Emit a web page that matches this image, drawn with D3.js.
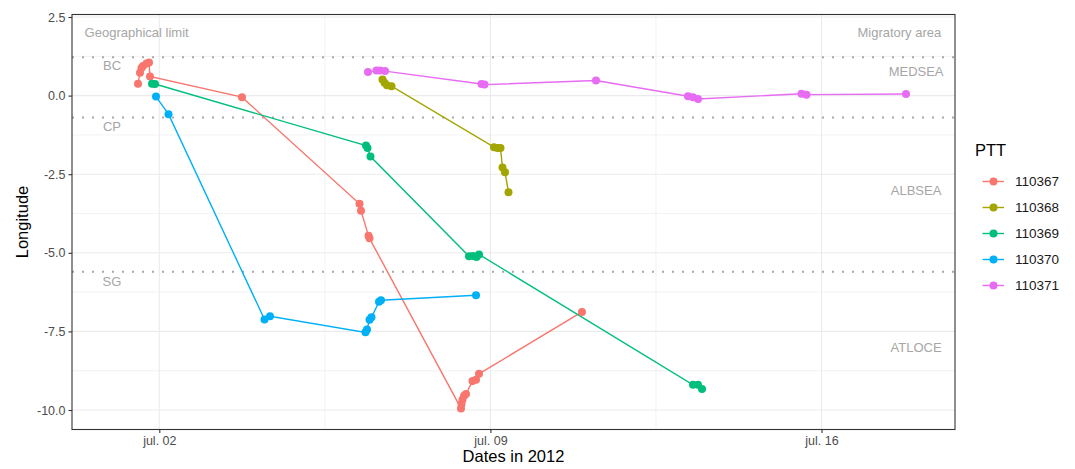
<!DOCTYPE html>
<html>
<head>
<meta charset="utf-8">
<script src="https://cdn.jsdelivr.net/npm/d3@7"></script>
<style>
  body { margin: 0; background: #fff; }
  text { font-family: "Liberation Sans", Arial, sans-serif; }
</style>
</head>
<body>
<div id="plot"></div>
<script>
// Data: [date time (UTC), longitude] for each tag
const ptts = ["110367", "110368", "110369", "110370", "110371"];
const colors = ["#F8766D", "#A3A500", "#00BF7D", "#00B0F6", "#E76BF3"];

const ptt110367 = [
  ["2012-07-01 13:12", 0.38], ["2012-07-01 14:12", 0.73], ["2012-07-01 14:58", 0.88],
  ["2012-07-01 15:43", 0.94], ["2012-07-01 17:30", 1.02], ["2012-07-01 18:46", 1.05],
  ["2012-07-01 19:16", 0.61], ["2012-07-03 17:57", -0.05], ["2012-07-06 05:35", -3.44],
  ["2012-07-06 06:20", -3.66], ["2012-07-06 10:09", -4.46], ["2012-07-06 10:39", -4.54],
  ["2012-07-08 09:04", -9.95], ["2012-07-08 09:20", -9.81], ["2012-07-08 09:50", -9.67],
  ["2012-07-08 10:36", -9.55], ["2012-07-08 11:37", -9.49], ["2012-07-08 14:55", -9.08],
  ["2012-07-08 16:42", -9.04], ["2012-07-08 18:13", -8.85], ["2012-07-10 22:28", -6.88]
];
const ptt110368 = [
  ["2012-07-06 17:15", 0.51], ["2012-07-06 18:16", 0.41], ["2012-07-06 19:32", 0.33],
  ["2012-07-06 21:49", 0.30], ["2012-07-09 01:49", -1.64], ["2012-07-09 03:36", -1.67],
  ["2012-07-09 05:07", -1.67], ["2012-07-09 06:08", -2.29], ["2012-07-09 07:24", -2.44],
  ["2012-07-09 09:11", -3.07]
];
const ptt110369 = [
  ["2012-07-01 20:18", 0.38], ["2012-07-01 21:49", 0.37], ["2012-07-06 08:53", -1.59],
  ["2012-07-06 09:39", -1.67], ["2012-07-06 11:10", -1.94], ["2012-07-08 13:09", -5.11],
  ["2012-07-08 15:10", -5.10], ["2012-07-08 16:57", -5.13], ["2012-07-08 18:13", -5.05],
  ["2012-07-13 06:48", -9.20], ["2012-07-13 09:20", -9.20], ["2012-07-13 11:22", -9.33]
];
const ptt110370 = [
  ["2012-07-01 22:19", -0.03], ["2012-07-02 04:40", -0.59], ["2012-07-04 05:23", -7.12],
  ["2012-07-04 08:10", -7.02], ["2012-07-06 08:37", -7.53], ["2012-07-06 09:23", -7.44],
  ["2012-07-06 10:39", -7.13], ["2012-07-06 11:40", -7.05], ["2012-07-06 15:28", -6.56],
  ["2012-07-06 16:29", -6.51], ["2012-07-08 16:42", -6.35]
];
const ptt110371 = [
  ["2012-07-06 09:53", 0.75], ["2012-07-06 14:12", 0.80], ["2012-07-06 15:59", 0.80],
  ["2012-07-06 18:31", 0.78], ["2012-07-08 19:29", 0.37], ["2012-07-08 21:00", 0.35],
  ["2012-07-11 05:35", 0.48], ["2012-07-13 04:16", -0.02], ["2012-07-13 06:48", -0.05],
  ["2012-07-13 09:20", -0.11], ["2012-07-15 13:51", 0.06], ["2012-07-15 16:23", 0.03],
  ["2012-07-17 18:52", 0.05]
];

// geographical limits (dotted lines) and labels
const limitNames = ["BC", "CP", "SG"];
const limitValues = [1.22, -0.70, -5.60];
const limitLabelValues = [0.95, -0.99, -5.90];
const areaNames = ["MEDSEA", "ALBSEA", "ATLOCE"];
const areaValues = [0.76, -3.03, -8.0];

// axis ticks
const xTickLabels = ["2012-07-02", "2012-07-09", "2012-07-16"];
const xMinorTicks = ["2012-07-05 12:00", "2012-07-12 12:00"];
const yTicks = [2.5, 0, -2.5, -5, -7.5, -10];
const yMinorTicks = [1.25, -1.25, -3.75, -6.25, -8.75];

// Width and height
const w = 1075;
const h = 469;
const margin = {top: 14.5, right: 120, bottom: 39.5, left: 72};
const innerWidth = w - margin.left - margin.right;
const innerHeight = h - margin.top - margin.bottom;

const parseTime = d3.utcParse("%Y-%m-%d %H:%M");
const parseDay = d3.utcParse("%Y-%m-%d");

const series = [ptt110367, ptt110368, ptt110369, ptt110370, ptt110371].map((s, i) => ({
  id: ptts[i],
  color: colors[i],
  values: s.map(d => ({date: parseTime(d[0]), lon: d[1]}))
}));

const xScale = d3.scaleUtc()
  .domain([parseTime("2012-06-30 03:42"), parseTime("2012-07-18 19:44")])
  .range([0, innerWidth]);

const yScale = d3.scaleLinear()
  .domain([-10.62, 2.58])
  .range([innerHeight, 0]);

const svg = d3.select("div#plot")
  .append("svg")
    .attr("width", w)
    .attr("height", h);

svg.append("rect")
  .attr("width", w)
  .attr("height", h)
  .attr("fill", "white");

const plot = svg.append("g")
  .attr("transform", `translate(${margin.left}, ${margin.top})`);

// grid lines
plot.selectAll("line.yminor")
  .data(yMinorTicks)
  .enter()
  .append("line")
  .attr("x1", 0).attr("x2", innerWidth)
  .attr("y1", d => yScale(d)).attr("y2", d => yScale(d))
  .attr("stroke", "#ebebeb").attr("stroke-width", 0.6);

plot.selectAll("line.xminor")
  .data(xMinorTicks.map(parseTime))
  .enter()
  .append("line")
  .attr("y1", 0).attr("y2", innerHeight)
  .attr("x1", d => xScale(d)).attr("x2", d => xScale(d))
  .attr("stroke", "#ebebeb").attr("stroke-width", 0.6);

plot.selectAll("line.ymajor")
  .data(yTicks)
  .enter()
  .append("line")
  .attr("x1", 0).attr("x2", innerWidth)
  .attr("y1", d => yScale(d)).attr("y2", d => yScale(d))
  .attr("stroke", "#ebebeb").attr("stroke-width", 1.1);

plot.selectAll("line.xmajor")
  .data(xTickLabels.map(parseDay))
  .enter()
  .append("line")
  .attr("y1", 0).attr("y2", innerHeight)
  .attr("x1", d => xScale(d)).attr("x2", d => xScale(d))
  .attr("stroke", "#ebebeb").attr("stroke-width", 1.1);

// dotted limit lines
plot.selectAll("line.limit")
  .data(limitValues)
  .enter()
  .append("line")
  .attr("x1", 0).attr("x2", innerWidth)
  .attr("y1", d => yScale(d)).attr("y2", d => yScale(d))
  .attr("stroke", "#a8a8a8")
  .attr("stroke-width", 2)
  .attr("stroke-dasharray", "2 8");

// annotation texts
const labelColor = "#a6a6a6";
const leftDate = parseTime("2012-07-01 00:00");
const rightDate = parseTime("2012-07-18 00:00");

plot.selectAll("text.limit")
  .data(limitNames)
  .enter()
  .append("text")
  .attr("x", xScale(leftDate))
  .attr("y", (d, i) => yScale(limitLabelValues[i]))
  .attr("dy", "0.35em")
  .attr("text-anchor", "middle")
  .attr("font-size", 13)
  .attr("fill", labelColor)
  .text(d => d);

plot.selectAll("text.area")
  .data(areaNames)
  .enter()
  .append("text")
  .attr("x", xScale(rightDate))
  .attr("y", (d, i) => yScale(areaValues[i]))
  .attr("dy", "0.35em")
  .attr("text-anchor", "middle")
  .attr("font-size", 13)
  .attr("fill", labelColor)
  .text(d => d);

plot.append("text")
  .attr("x", xScale(parseTime("2012-07-01 12:30")))
  .attr("y", yScale(2.0))
  .attr("dy", "0.35em")
  .attr("text-anchor", "middle")
  .attr("font-size", 13)
  .attr("fill", labelColor)
  .text("Geographical limit");

plot.append("text")
  .attr("x", xScale(parseTime("2012-07-17 15:30")))
  .attr("y", yScale(2.0))
  .attr("dy", "0.35em")
  .attr("text-anchor", "middle")
  .attr("font-size", 13)
  .attr("fill", labelColor)
  .text("Migratory area");

// tracks
const line = d3.line()
  .x(d => xScale(d.date))
  .y(d => yScale(d.lon));

plot.selectAll("path.track")
  .data(series)
  .enter()
  .append("path")
  .attr("d", d => line(d.values))
  .attr("fill", "none")
  .attr("stroke", d => d.color)
  .attr("stroke-width", 1.4);

series.forEach(s => {
  plot.append("g")
    .selectAll("circle")
    .data(s.values)
    .enter()
    .append("circle")
    .attr("cx", d => xScale(d.date))
    .attr("cy", d => yScale(d.lon))
    .attr("r", 4)
    .attr("fill", s.color);
});

// panel border
plot.append("rect")
  .attr("width", innerWidth)
  .attr("height", innerHeight)
  .attr("fill", "none")
  .attr("stroke", "#333333")
  .attr("stroke-width", 1.1);

// axes
const xAxis = d3.axisBottom(xScale)
  .tickValues(xTickLabels.map(parseDay))
  .tickFormat(d => "jul. " + d3.utcFormat("%d")(d))
  .tickSize(3.5)
  .tickPadding(3);

const yAxis = d3.axisLeft(yScale)
  .tickValues(yTicks)
  .tickFormat(d => d.toFixed(1))
  .tickSize(3.5)
  .tickPadding(3);

const gx = plot.append("g")
  .attr("transform", `translate(0, ${innerHeight})`)
  .call(xAxis);

const gy = plot.append("g")
  .call(yAxis);

[gx, gy].forEach(g => {
  g.select(".domain").remove();
  g.selectAll(".tick line").attr("stroke", "#333333").attr("stroke-width", 1.1);
  g.selectAll(".tick text")
    .attr("fill", "#4d4d4d")
    .attr("font-size", 12.5)
    .attr("font-family", "Liberation Sans, Arial, sans-serif");
});

// axis titles
svg.append("text")
  .attr("x", margin.left + innerWidth / 2)
  .attr("y", h - 7)
  .attr("text-anchor", "middle")
  .attr("font-size", 16.5)
  .attr("fill", "black")
  .text("Dates in 2012");

svg.append("text")
  .attr("transform", `translate(28, ${margin.top + innerHeight / 2}) rotate(-90)`)
  .attr("text-anchor", "middle")
  .attr("font-size", 16.5)
  .attr("fill", "black")
  .text("Longitude");

// legend
const legend = svg.append("g")
  .attr("transform", "translate(975, 0)");

legend.append("text")
  .attr("x", 0)
  .attr("y", 156)
  .attr("font-size", 16.5)
  .attr("fill", "black")
  .text("PTT");

const items = legend.selectAll("g.item")
  .data(series)
  .enter()
  .append("g")
  .attr("transform", (d, i) => `translate(0, ${181.5 + i * 26})`);

items.append("line")
  .attr("x1", 7.5).attr("x2", 29)
  .attr("stroke", d => d.color)
  .attr("stroke-width", 1.4);

items.append("circle")
  .attr("cx", 18.5)
  .attr("r", 4)
  .attr("fill", d => d.color);

items.append("text")
  .attr("x", 40)
  .attr("dy", "0.35em")
  .attr("font-size", 13.5)
  .attr("fill", "#1a1a1a")
  .text(d => d.id);
</script>
</body>
</html>
